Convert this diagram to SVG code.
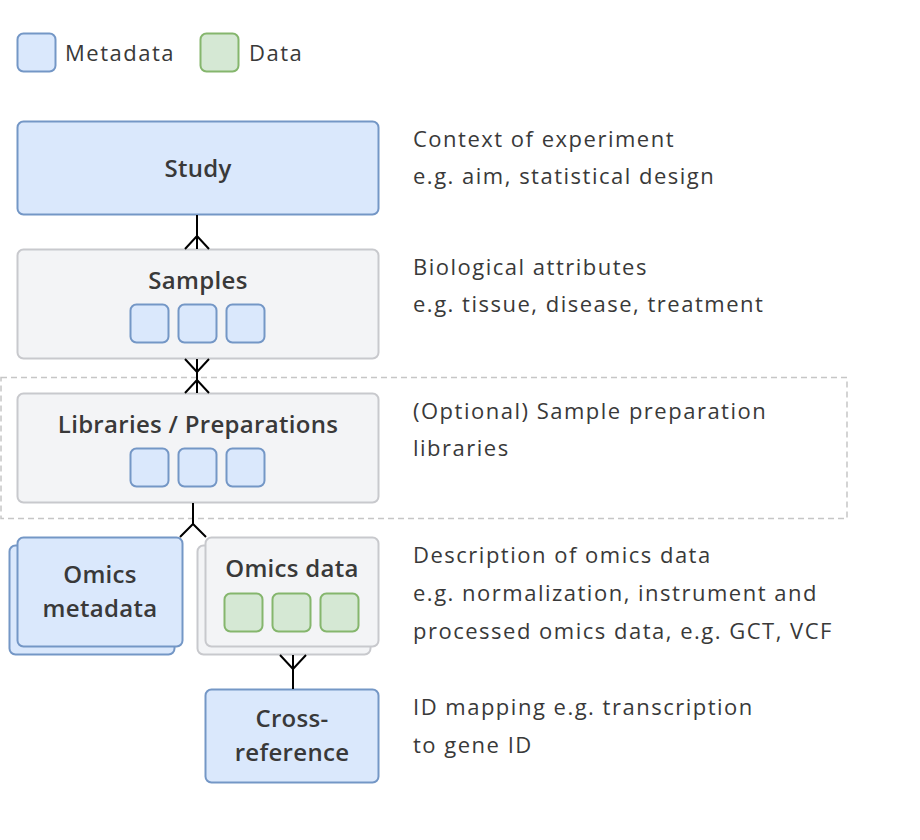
<svg xmlns="http://www.w3.org/2000/svg" width="920" height="840" viewBox="0 0 920 840">
<defs>
<style>
.meta{fill:#dae8fc;stroke:#7497c6;stroke-width:2}
.dat{fill:#d5e8d4;stroke:#85b66d;stroke-width:2}
.gray{fill:#f3f4f6;stroke:#c8c9cd;stroke-width:2}
.lbl{font-family:"Open Sans","Liberation Sans",sans-serif;font-weight:600;font-size:24px;letter-spacing:0.3px;fill:#393939;text-anchor:middle}
.desc{font-family:"Open Sans","Liberation Sans",sans-serif;font-size:22px;letter-spacing:1.5px;fill:#393939}
.conn{fill:none;stroke:#000;stroke-width:2}
</style>
</defs>
<rect width="920" height="840" fill="#ffffff"/>
<g id="legend">
<rect class="meta" x="17.5" y="33.5" width="38" height="38" rx="6"/>
<text class="desc" x="65" y="61">Metadata</text>
<rect class="dat" x="200.5" y="33.5" width="38" height="38" rx="6"/>
<text class="desc" x="249" y="61">Data</text>
</g>
<g id="optional-group">
<rect x="1" y="377.5" width="846" height="141" fill="none" stroke="#c6c6c6" stroke-width="1.5" stroke-dasharray="6 4"/>
</g>
<g id="study">
<rect class="meta" x="17.5" y="121.5" width="361" height="93" rx="6"/>
<text class="lbl" x="198" y="177">Study</text>
</g>
<g id="samples">
<rect class="gray" x="17.5" y="249.5" width="361" height="109" rx="6"/>
<text class="lbl" x="198" y="289">Samples</text>
<rect class="meta" x="130.5" y="304.5" width="38" height="38" rx="6"/>
<rect class="meta" x="178.5" y="304.5" width="38" height="38" rx="6"/>
<rect class="meta" x="226.5" y="304.5" width="38" height="38" rx="6"/>
</g>
<g id="libraries">
<rect class="gray" x="17.5" y="393.5" width="361" height="109" rx="6"/>
<text class="lbl" x="198" y="433">Libraries / Preparations</text>
<rect class="meta" x="130.5" y="448.5" width="38" height="38" rx="6"/>
<rect class="meta" x="178.5" y="448.5" width="38" height="38" rx="6"/>
<rect class="meta" x="226.5" y="448.5" width="38" height="38" rx="6"/>
</g>
<g id="omics-metadata">
<rect class="meta" x="9.5" y="545.5" width="165" height="109" rx="6"/>
<rect class="meta" x="17.5" y="537.5" width="165" height="109" rx="6"/>
<text class="lbl" x="100" y="583">Omics</text>
<text class="lbl" x="100" y="617">metadata</text>
</g>
<g id="omics-data">
<rect class="gray" x="197.5" y="545.5" width="173" height="109" rx="6"/>
<rect class="gray" x="205.5" y="537.5" width="173" height="109" rx="6"/>
<text class="lbl" x="292" y="577">Omics data</text>
<rect class="dat" x="224.5" y="593.5" width="38" height="38" rx="6"/>
<rect class="dat" x="272.5" y="593.5" width="38" height="38" rx="6"/>
<rect class="dat" x="320.5" y="593.5" width="38" height="38" rx="6"/>
</g>
<g id="cross-reference">
<rect class="meta" x="205.5" y="689.5" width="173" height="93" rx="6"/>
<text class="lbl" x="292" y="727">Cross-</text>
<text class="lbl" x="292" y="761">reference</text>
</g>
<g id="connectors">
<path class="conn" d="M197,215 V249 M185,249 L197,236 L209,249"/>
<path class="conn" d="M197,359 V393 M185,359 L197,372 L209,359 M185,393 L197,380 L209,393"/>
<path class="conn" d="M193,503 V524 M180,537 L193,524 L206,537"/>
<path class="conn" d="M293,655 V689 M280,655 L293,669 L306,655"/>
</g>
<g id="descriptions">
<text class="desc" x="413" y="147">Context of experiment</text>
<text class="desc" x="413" y="184">e.g. aim, statistical design</text>
<text class="desc" x="413" y="275">Biological attributes</text>
<text class="desc" x="413" y="312">e.g. tissue, disease, treatment</text>
<text class="desc" x="413" y="419">(Optional) Sample preparation</text>
<text class="desc" x="413" y="456">libraries</text>
<text class="desc" x="413" y="563">Description of omics data</text>
<text class="desc" x="413" y="601">e.g. normalization, instrument and</text>
<text class="desc" x="413" y="639">processed omics data, e.g. GCT, VCF</text>
<text class="desc" x="413" y="715">ID mapping e.g. transcription</text>
<text class="desc" x="413" y="753">to gene ID</text>
</g>
</svg>
